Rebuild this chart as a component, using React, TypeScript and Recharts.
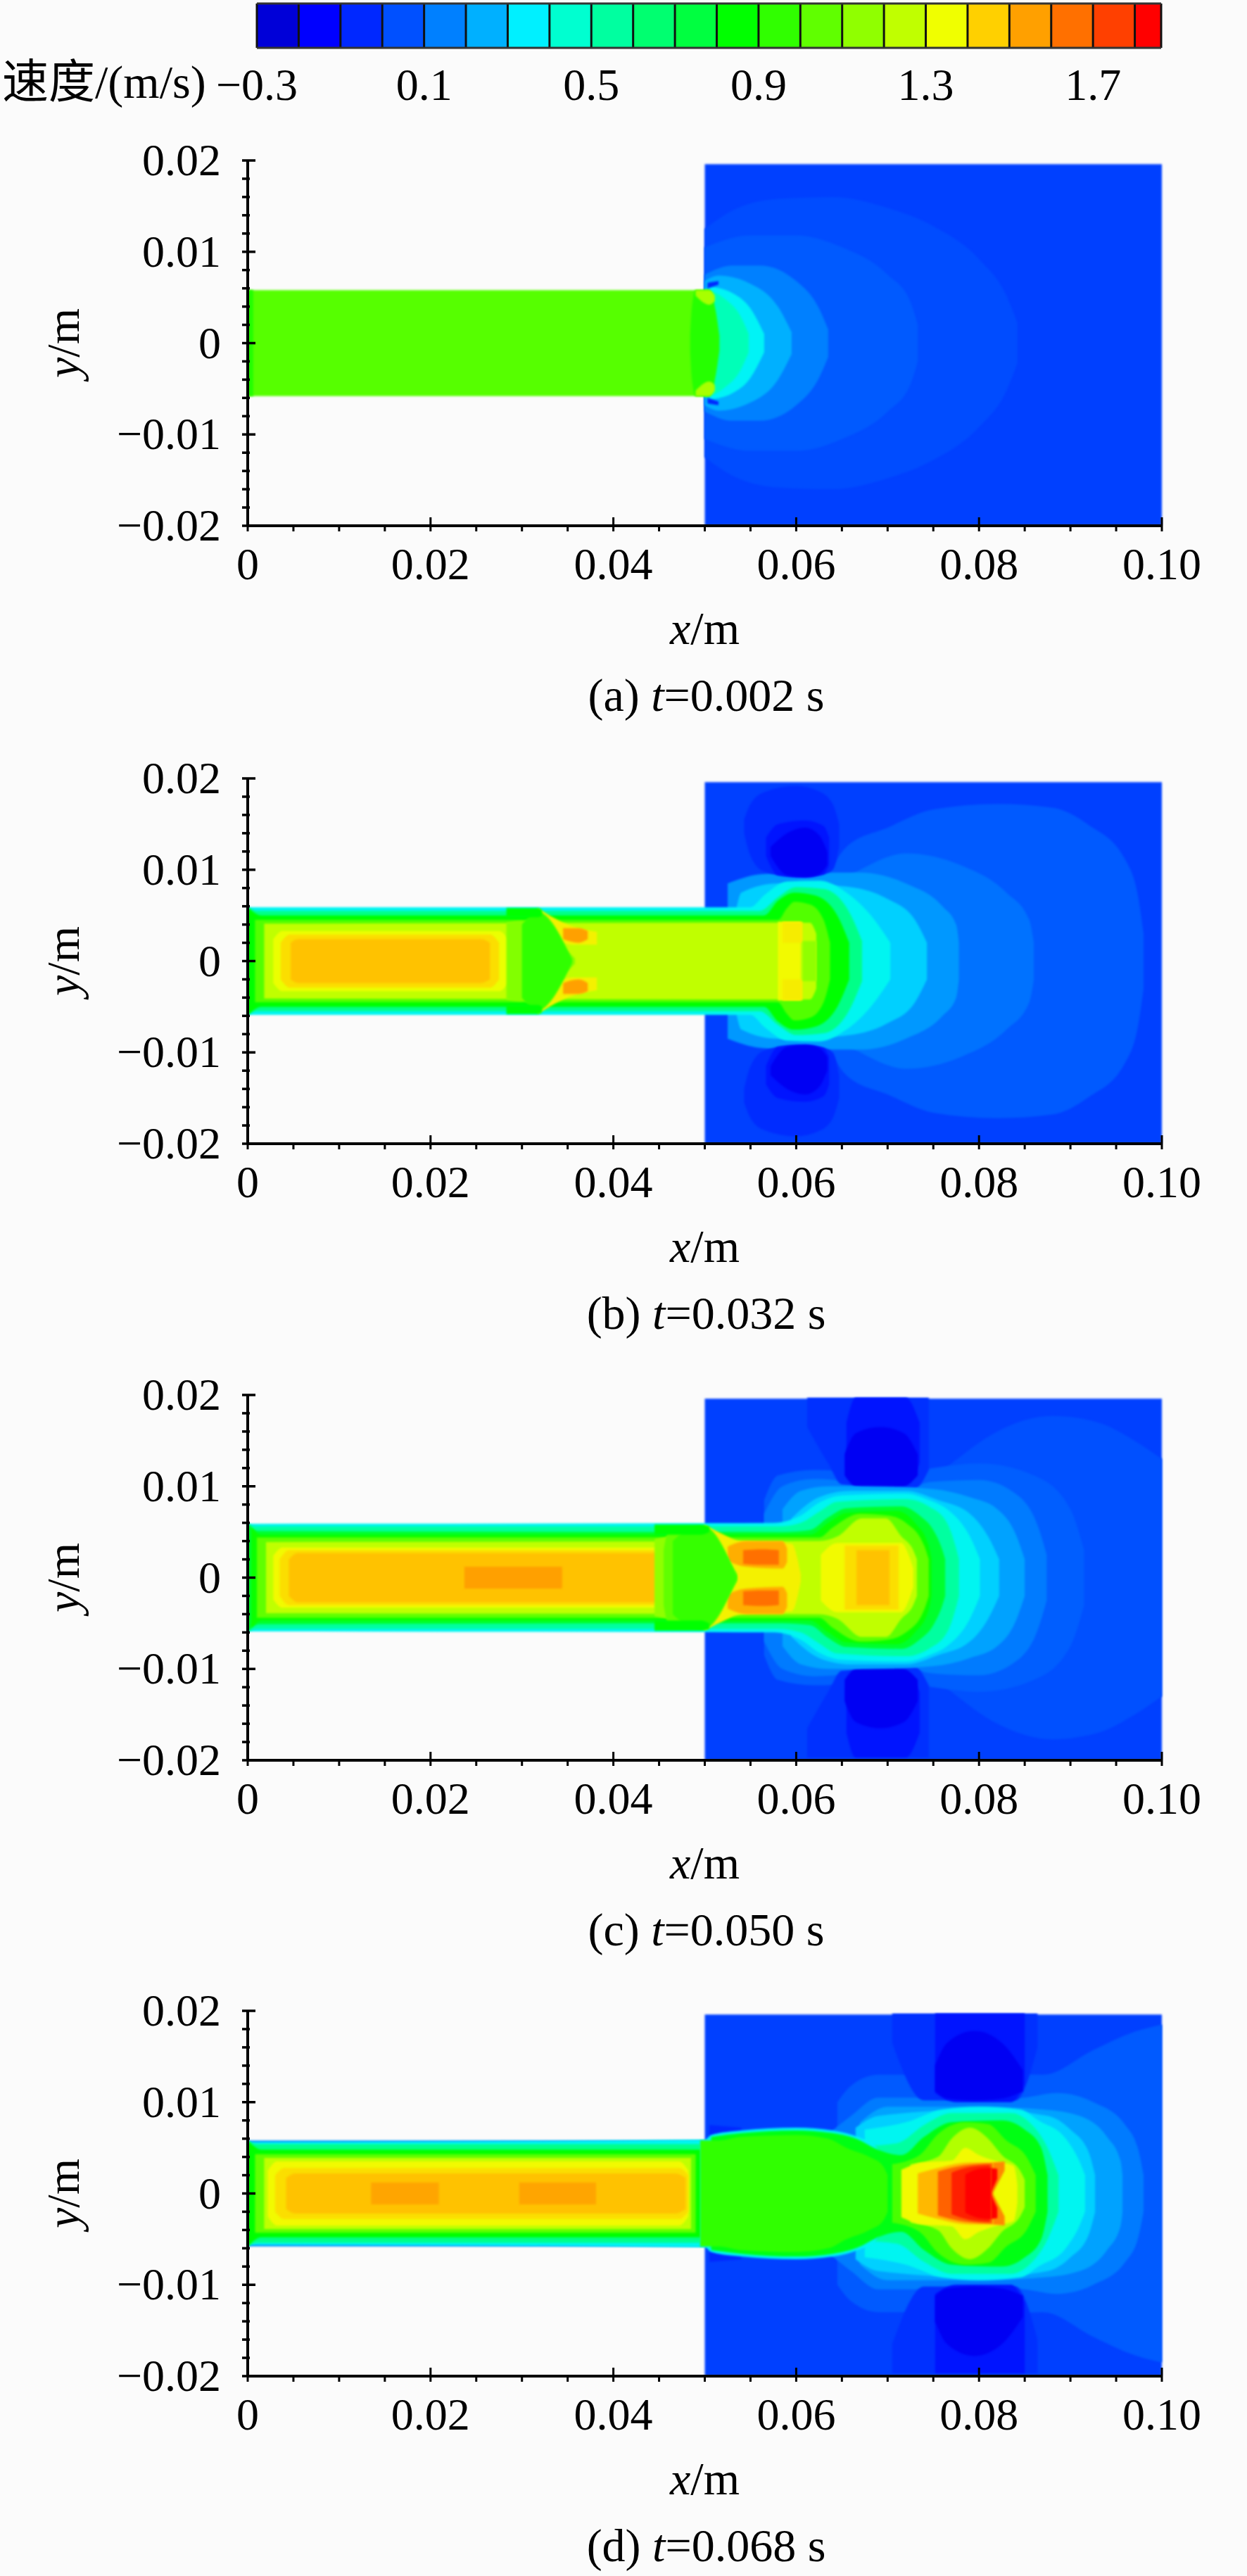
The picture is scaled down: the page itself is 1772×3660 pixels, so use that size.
import { ComposedChart, Area, XAxis, YAxis, ReferenceLine, Label } from "recharts";

type Pt = number[]; // [x, h] symmetric about y=0, or [x, lo, hi]
type Band = [number, Pt[]]; // velocity level, outline

// colour bar, one swatch for each 0.1 m/s from -0.3
const legendColors = ["#0000d8", "#0000ff", "#0028ff", "#0050ff", "#0080ff", "#00b0ff", "#00f0ff", "#00ffd0", "#00ffa0", "#00ff70", "#00ff40", "#00ff00", "#30ff00", "#60ff00", "#90ff00", "#c0ff00", "#f0ff00", "#ffd000", "#ffa000", "#ff7000", "#ff4000", "#ff0000"];
const legendEdges = [-0.3, -0.2, -0.1, 0, 0.1, 0.2, 0.3, 0.4, 0.5, 0.6, 0.7, 0.8, 0.9, 1.0, 1.1, 1.2, 1.3, 1.4, 1.5, 1.6, 1.7, 1.8, 1.863];
const legendTicks = [-0.3, 0.1, 0.5, 0.9, 1.3, 1.7];

const xTicks = [0, 0.005, 0.01, 0.015, 0.02, 0.025, 0.03, 0.035, 0.04, 0.045, 0.05, 0.055, 0.06, 0.065, 0.07, 0.075, 0.08, 0.085, 0.09, 0.095, 0.1];
const xMajor = [0, 0.02, 0.04, 0.06, 0.08, 0.1];
const yTicks = [-0.02, -0.018, -0.016, -0.014, -0.012, -0.01, -0.008, -0.006, -0.004, -0.002, 0, 0.002, 0.004, 0.006, 0.008, 0.01, 0.012, 0.014, 0.016, 0.018, 0.02];
const yMajor = [-0.02, -0.01, 0, 0.01, 0.02];

const domainBand: Band = [0.01, [[0.05, -0.02, 0.0196], [0.1, -0.02, 0.0196]]];

// (a) t=0.002
const lobesA: Band[] = [
  [0.04, [[0.05, 0.0125], [0.053, 0.0145], [0.058, 0.0158], [0.064, 0.016], [0.07, 0.0148], [0.075, 0.0128], [0.08, 0.0092], [0.083, 0.0052], [0.0842, 0.0022]]],
  [0.07, [[0.05, 0.0105], [0.055, 0.0118], [0.06, 0.0118], [0.065, 0.0105], [0.07, 0.0075], [0.0725, 0.0045], [0.0733, 0.002]]],
  [0.15, [[0.05, 0.0075], [0.053, 0.0085], [0.056, 0.0085], [0.06, 0.0068], [0.0625, 0.0038], [0.0635, 0.0015]]],
  [0.25, [[0.05, 0.0068], [0.0515, 0.0074], [0.055, 0.0065], [0.058, 0.004], [0.0595, 0.0012]]],
  [0.37, [[0.0505, 0.0062], [0.053, 0.0055], [0.055, 0.0038], [0.0565, 0.001]]],
  [0.5, [[0.05, 0.006], [0.052, 0.005], [0.054, 0.0028], [0.0548, 0.001]]],
];
const cornerA: Band[] = [
  [-0.05, [[0.0503, 0.006, 0.0066], [0.0515, 0.0064, 0.0068]]],
];
const jetA: Band[] = [
  [1.03, [[0, 0.0058], [0.0505, 0.0058]]],
  [0.92, [[0, 0.0058], [0.0006, 0.0058]]],
  [0.93, [[0.0484, 0.001], [0.0486, 0.004], [0.049, 0.0058], [0.0505, 0.0058], [0.0512, 0.0035], [0.0516, 0.0008]]],
];
const hotA: Band[] = [
  [1.2, [[0.049, 0.0052, 0.0058], [0.0505, 0.0042, 0.0058], [0.0511, 0.0046, 0.0052]]],
];

// (b) t=0.032
const lobesB: Band[] = [
  [0.07, [[0.063, 0.0085], [0.0655, 0.0125], [0.07, 0.0146], [0.075, 0.0166], [0.082, 0.0172], [0.088, 0.0168], [0.092, 0.0149], [0.096, 0.0111], [0.0975, 0.0065], [0.098, 0.003]]],
  [0.12, [[0.063, 0.008], [0.066, 0.0095], [0.072, 0.0118], [0.078, 0.0105], [0.083, 0.0075], [0.0855, 0.0045], [0.086, 0.002]]],
  [0.2, [[0.0525, 0.0085], [0.056, 0.0095], [0.06, 0.0097], [0.067, 0.0097], [0.072, 0.0085], [0.076, 0.006], [0.0775, 0.004], [0.0778, 0.002]]],
];
const darkB: Band[] = [
  [-0.04, [[0.0543, 0.014, 0.0155], [0.055, 0.0115, 0.0172], [0.0565, 0.0098, 0.0185], [0.06, 0.0092, 0.0192], [0.0625, 0.0094, 0.0186], [0.064, 0.01, 0.0172], [0.0647, 0.0125, 0.015]]],
  [-0.1, [[0.0567, 0.0115, 0.0135], [0.058, 0.0094, 0.015], [0.061, 0.0092, 0.0154], [0.063, 0.0095, 0.0148], [0.0636, 0.0105, 0.0135]]],
  [-0.18, [[0.0572, 0.0115, 0.0125], [0.059, 0.0094, 0.014], [0.061, 0.0092, 0.0146], [0.0625, 0.0095, 0.0138], [0.0634, 0.0105, 0.012]]],
];
const jetB: Band[] = [
  [0.3, [[0.0535, 0.006], [0.054, 0.0075], [0.058, 0.0085], [0.065, 0.0082], [0.07, 0.0068], [0.073, 0.0045], [0.0743, 0.002]]],
  [0.38, [[0, 0.0059], [0.055, 0.0059], [0.0565, 0.0072], [0.059, 0.0087], [0.0625, 0.0088], [0.0655, 0.0075], [0.068, 0.0052], [0.0703, 0.002]]],
  [0.6, [[0, 0.0059], [0.001, 0.0055], [0.056, 0.0055], [0.058, 0.007], [0.06, 0.0081], [0.063, 0.0079], [0.066, 0.005], [0.0672, 0.0022]]],
  [0.85, [[0, 0.0059], [0.0015, 0.005], [0.0565, 0.005], [0.058, 0.0066], [0.0598, 0.0075], [0.062, 0.0072], [0.0645, 0.005], [0.0658, 0.002]]],
  [1.02, [[0.0008, 0.0045], [0.058, 0.0045], [0.059, 0.0058], [0.0598, 0.0065], [0.0615, 0.0062], [0.063, 0.0045], [0.0637, 0.002]]],
  [1.25, [[0.0018, 0.0041], [0.0615, 0.0042], [0.0622, 0.003]]],
  [1.34, [[0.0028, 0.0024], [0.0038, 0.0033], [0.0275, 0.0033], [0.0285, 0.0024]]],
  [1.42, [[0.0036, 0.002], [0.0046, 0.0029], [0.0265, 0.0029], [0.0275, 0.002]]],
  [1.48, [[0.0047, 0.002], [0.0055, 0.0024], [0.0255, 0.0024], [0.0265, 0.002]]],
  [1.36, [[0.058, 0.0043], [0.0605, 0.0043]]],
];
const hotB: Band[] = [
  [1.38, [[0.0317, 0.004, 0.0058], [0.0355, 0.0018, 0.0038], [0.0382, 0.0018, 0.0032]]],
  [1.55, [[0.0345, 0.0024, 0.0036], [0.0362, 0.002, 0.0036], [0.0372, 0.0024, 0.0033]]],
  [1.39, [[0.0585, 0.002, 0.0043], [0.0607, 0.002, 0.0043]]],
];
const shockB: Band[] = [
  [1.15, [[0.0607, 0.0022], [0.0622, 0.0022]]],
  [1.12, [[0.0283, 0.0042], [0.0298, 0.0044], [0.0345, 0.0015], [0.0358, 0.0003]]],
  [0.95, [[0.03, 0.004], [0.0317, 0.0054], [0.0355, 0.0002]]],
];
const wallB: Band[] = [
  [0.85, [[0.0283, 0.0048, 0.0058], [0.0317, 0.0048, 0.0058], [0.0322, 0.005, 0.0056]]],
];

// (c) t=0.050
const lobesC: Band[] = [
  [0.05, [[0.0735, 0.0095], [0.077, 0.0125], [0.082, 0.016], [0.088, 0.0177], [0.093, 0.017], [0.097, 0.015], [0.1, 0.013]]],
  [0.08, [[0.0565, 0.0085], [0.058, 0.0112], [0.062, 0.0118], [0.07, 0.0115], [0.08, 0.0125], [0.086, 0.0112], [0.09, 0.0075], [0.0915, 0.003]]],
  [0.14, [[0.0565, 0.007], [0.0585, 0.01], [0.062, 0.0108], [0.066, 0.0105], [0.071, 0.0097], [0.075, 0.0105], [0.08, 0.0107], [0.084, 0.0092], [0.0865, 0.0055], [0.0874, 0.0025]]],
];
const darkC: Band[] = [
  [-0.03, [[0.0612, 0.0165, 0.0197], [0.0635, 0.0125, 0.0197], [0.065, 0.0102, 0.0197], [0.073, 0.0098, 0.0197], [0.0745, 0.0118, 0.0197]]],
  [-0.1, [[0.0655, 0.0125, 0.017], [0.0665, 0.0105, 0.0197], [0.072, 0.0105, 0.0197], [0.0735, 0.0125, 0.017]]],
  [-0.18, [[0.0653, 0.0112, 0.0135], [0.0665, 0.01, 0.0158], [0.0692, 0.0098, 0.0165], [0.0718, 0.01, 0.0158], [0.0733, 0.0112, 0.0135]]],
];
const jetC: Band[] = [
  [0.22, [[0.0585, 0.0075], [0.0605, 0.0095], [0.0635, 0.01], [0.068, 0.01], [0.075, 0.0097], [0.079, 0.0088], [0.082, 0.0075], [0.084, 0.0048], [0.085, 0.002]]],
  [0.3, [[0.0595, 0.0065], [0.0625, 0.0088], [0.066, 0.0095], [0.072, 0.0095], [0.0755, 0.0085], [0.079, 0.007], [0.081, 0.0045], [0.0822, 0.002]]],
  [0.38, [[0, 0.0059], [0.0575, 0.006], [0.0605, 0.0068], [0.0625, 0.0082], [0.065, 0.009], [0.072, 0.0092], [0.0745, 0.0085], [0.0765, 0.0075], [0.079, 0.0045], [0.0801, 0.002]]],
  [0.55, [[0, 0.0059], [0.001, 0.0056], [0.058, 0.0056], [0.0605, 0.006], [0.0625, 0.0072], [0.0645, 0.0083], [0.072, 0.0086], [0.0745, 0.0078], [0.0765, 0.006], [0.0775, 0.0032], [0.0778, 0.002]]],
  [0.78, [[0, 0.0059], [0.0012, 0.0051], [0.0585, 0.005], [0.0615, 0.0052], [0.0635, 0.0066], [0.0655, 0.0076], [0.0715, 0.0078], [0.0735, 0.0068], [0.075, 0.0052], [0.076, 0.003], [0.0763, 0.002]]],
  [0.87, [[0.0004, 0.0055], [0.0015, 0.0047], [0.0615, 0.0047], [0.0635, 0.006], [0.0655, 0.0071], [0.071, 0.0073], [0.073, 0.006], [0.0745, 0.0035], [0.0748, 0.002]]],
  [1.05, [[0.001, 0.0044], [0.0625, 0.0044], [0.064, 0.0055], [0.067, 0.007], [0.07, 0.0068], [0.072, 0.006], [0.074, 0.0035], [0.0745, 0.002]]],
  [1.25, [[0.002, 0.0039], [0.0625, 0.004], [0.0645, 0.0045], [0.0672, 0.0065], [0.0698, 0.0065], [0.0715, 0.0045], [0.0728, 0.003], [0.0732, 0.002]]],
  [1.36, [[0.0028, 0.0024], [0.0038, 0.0033], [0.0455, 0.0033], [0.0465, 0.0024]]],
  [1.42, [[0.0035, 0.002], [0.0045, 0.003], [0.045, 0.003], [0.046, 0.002]]],
  [1.48, [[0.0045, 0.002], [0.0055, 0.0027], [0.0445, 0.0027], [0.0455, 0.002]]],
  [1.55, [[0.0237, 0.0012], [0.0344, 0.0012]]],
  [1.36, [[0.0627, 0.0025], [0.0645, 0.0038], [0.0715, 0.0038], [0.0723, 0.0025], [0.0728, 0.001]]],
  [1.42, [[0.0653, 0.0035], [0.0712, 0.0035]]],
  [1.48, [[0.0666, 0.003], [0.0702, 0.003]]],
  [1.38, [[0.0499, 0.0058], [0.0515, 0.005], [0.054, 0.004], [0.0595, 0.0037], [0.0605, 0.0004]]],
];
const hotC: Band[] = [
  [1.52, [[0.0525, 0.0018, 0.0034], [0.0545, 0.0012, 0.004], [0.0585, 0.001, 0.004], [0.059, 0.0017, 0.0032]]],
  [1.65, [[0.0542, 0.0015, 0.003], [0.0563, 0.0014, 0.0031], [0.0581, 0.0014, 0.003]]],
];
const shockC: Band[] = [
  [1.15, [[0.0445, 0.0042], [0.0475, 0.0046], [0.0505, 0.0042], [0.0535, 0.0005]]],
  [1.05, [[0.0455, 0.003], [0.046, 0.005], [0.048, 0.005], [0.0505, 0.0036], [0.0535, 0.0003]]],
  [0.96, [[0.0465, 0.004], [0.0482, 0.0053], [0.0499, 0.0056], [0.0535, 0.0002]]],
];
const wallC: Band[] = [
  [0.85, [[0.0445, 0.0047, 0.0058], [0.0495, 0.0047, 0.0058], [0.0505, 0.005, 0.0056]]],
];

// (d) t=0.068
const lobesD: Band[] = [
  [0.07, [[0.0645, 0.01], [0.066, 0.0118], [0.069, 0.013], [0.073, 0.013], [0.078, 0.0135], [0.087, 0.013], [0.0925, 0.0157], [0.097, 0.0177], [0.1, 0.0185]]],
  [0.14, [[0.0635, 0.0065], [0.066, 0.0085], [0.069, 0.0105], [0.075, 0.0105], [0.08, 0.0102], [0.085, 0.0105], [0.0885, 0.011], [0.0925, 0.01], [0.096, 0.0075], [0.0975, 0.0045], [0.098, 0.002]]],
];
const darkD: Band[] = [
  [-0.03, [[0.0705, 0.0165, 0.0197], [0.074, 0.0102, 0.0197], [0.084, 0.0102, 0.0197], [0.0864, 0.016, 0.0197]]],
  [-0.1, [[0.0752, 0.011, 0.0197], [0.0775, 0.01, 0.0197], [0.0835, 0.01, 0.0197], [0.085, 0.012, 0.0197]]],
  [-0.18, [[0.0752, 0.0112, 0.014], [0.0765, 0.0104, 0.0165], [0.0795, 0.0102, 0.0178], [0.0825, 0.0104, 0.0165], [0.0848, 0.0112, 0.0135]]],
  [-0.05, [[0.0505, 0.0064, 0.0075], [0.054, 0.0066, 0.0072]]],
];
const jetD: Band[] = [
  [0.22, [[0.067, 0.0078], [0.07, 0.0095], [0.08, 0.0095], [0.087, 0.0092], [0.091, 0.0085], [0.094, 0.0062], [0.0955, 0.0035], [0.0957, 0.002]]],
  [0.3, [[0.0665, 0.0072], [0.069, 0.0085], [0.08, 0.0092], [0.0875, 0.0085], [0.09, 0.007], [0.092, 0.0045], [0.0927, 0.002]]],
  [0.38, [[0.0675, 0.007], [0.072, 0.0078], [0.076, 0.0092], [0.08, 0.0095], [0.0845, 0.0092], [0.0865, 0.008], [0.0895, 0.006], [0.091, 0.0035], [0.0916, 0.002]]],
  [0.55, [[0.0675, 0.0052], [0.071, 0.0055], [0.074, 0.0075], [0.077, 0.0088], [0.0835, 0.0088], [0.0855, 0.0078], [0.0875, 0.005], [0.0887, 0.002]]],
  [0.2, [[0, 0.0058], [0.05, 0.0058]]],
  [0.38, [[0, 0.0056], [0.05, 0.0059], [0.0507, 0.0064], [0.054, 0.0069], [0.06, 0.0072], [0.064, 0.0069], [0.067, 0.0061], [0.0685, 0.0054], [0.07, 0.002]]],
  [0.6, [[0, 0.0058], [0.001, 0.0054], [0.0495, 0.0054]]],
  [0.85, [[0, 0.0058], [0.0015, 0.0048], [0.0495, 0.0048]]],
  [0.82, [[0.0507, 0.0062], [0.054, 0.0066], [0.06, 0.0069], [0.064, 0.0066], [0.067, 0.0058], [0.0685, 0.005], [0.0715, 0.0042], [0.074, 0.0062], [0.077, 0.0078], [0.0825, 0.008], [0.085, 0.007], [0.0868, 0.005], [0.0875, 0.002]]],
  [1.05, [[0.0008, 0.0043], [0.049, 0.0043]]],
  [1.25, [[0.0018, 0.0039], [0.0485, 0.0039]]],
  [1.36, [[0.0022, 0.0025], [0.0032, 0.0035], [0.0472, 0.0035], [0.0482, 0.0025]]],
  [1.42, [[0.003, 0.002], [0.004, 0.0028], [0.0472, 0.0028], [0.0482, 0.002]]],
  [1.48, [[0.0042, 0.0017], [0.0052, 0.0022], [0.0468, 0.0022], [0.0479, 0.0017]]],
  [1.54, [[0.0135, 0.0012], [0.0209, 0.0012]]],
  [1.54, [[0.0297, 0.0012], [0.0381, 0.0012]]],
  [0.95, [[0.0495, 0.0058], [0.0515, 0.0058], [0.054, 0.0062], [0.06, 0.0064], [0.0635, 0.006], [0.0655, 0.005], [0.068, 0.004], [0.0695, 0.003], [0.07, 0.002]]],
  [1.0, [[0.0705, 0.0032], [0.0735, 0.0042], [0.0755, 0.0065], [0.0785, 0.0078], [0.081, 0.0076], [0.083, 0.0058], [0.0852, 0.004], [0.0862, 0.002]]],
  [1.22, [[0.0725, 0.0032], [0.0755, 0.004], [0.077, 0.006], [0.079, 0.0072], [0.081, 0.006], [0.0825, 0.0042], [0.0845, 0.0025], [0.085, 0.0015]]],
  [1.36, [[0.0715, 0.0026], [0.0738, 0.0034], [0.077, 0.0036], [0.0785, 0.005], [0.08, 0.0042], [0.082, 0.0035], [0.0838, 0.003], [0.0842, 0.001]]],
  [1.5, [[0.0733, 0.0022], [0.0755, 0.0028], [0.079, 0.0034], [0.0815, 0.0034]]],
  [1.68, [[0.0755, 0.0024], [0.0785, 0.0031], [0.0815, 0.0033]]],
  [1.8, [[0.077, 0.0023], [0.079, 0.0029], [0.0812, 0.0031]]],
  [1.88, [[0.0785, 0.0021], [0.08, 0.0027], [0.0813, 0.0028]]],
];
const hotD: Band[] = [
  [1.6, [[0.0815, 0, 0.0034], [0.0828, 0.0025, 0.0035]]],
  [1.88, [[0.0813, 0, 0.0028], [0.082, 0.0016, 0.0027]]],
];

const FONT = '"Liberation Serif", "Noto Sans CJK SC", serif';
const PAGE_BG = "#fbfbfb";

function colorOf(v: number) {
  const i = Math.max(0, Math.min(legendColors.length - 1.001, (v + 0.25) / 0.1));
  const a = Math.floor(i);
  const t = i - a;
  const rgb = (s: string) => [1, 3, 5].map((p) => parseInt(s.slice(p, p + 2), 16));
  const c0 = rgb(legendColors[a]);
  const c1 = rgb(legendColors[a + 1]);
  return `rgb(${c0.map((c, k) => Math.round(c + (c1[k] - c) * t)).join(",")})`;
}

// a contour that has an upper and a lower copy
const twin = (bands: Band[]) =>
  bands.flatMap(([v, pts]): Band[] => [
    [v, pts],
    [v, pts.map(([x, lo, hi]) => [x, -hi, -lo])],
  ]);

const toRows = (pts: Pt[]) => pts.map((p) => ({ x: p[0], y: p.length === 3 ? [p[1], p[2]] : [-p[1], p[1]] }));

function XTick({ x, y, payload }: any) {
  const major = xMajor.includes(payload.value);
  return (
    <g>
      <line x1={x} x2={x} y1={y} y2={y - (major ? 20 : 10)} stroke="#000" strokeWidth={3} />
      {major && (
        <text x={x} y={y + 68} textAnchor="middle" fontFamily={FONT} fontSize={64} fill="#000">
          {payload.value === 0 ? "0" : payload.value.toFixed(2)}
        </text>
      )}
    </g>
  );
}

function YTick({ x, y, payload }: any) {
  const major = yMajor.includes(payload.value);
  const v = payload.value;
  return (
    <g>
      <line x1={x} x2={x + (major ? 19 : 11)} y1={y} y2={y} stroke="#000" strokeWidth={3.5} />
      {major && (
        <text x={x - 30} y={y + 21} textAnchor="end" fontFamily={FONT} fontSize={64} fill="#000">
          {v === 0 ? "0" : (v < 0 ? "\u2212" : "") + Math.abs(v).toFixed(2)}
        </text>
      )}
    </g>
  );
}

function Panel({ top, tag, time, bands }: { top: number; tag: string; time: string; bands: Band[] }) {
  return (
    <div className="field" style={{ position: "absolute", left: 0, top: top - 60 }}>
      <ComposedChart width={1772} height={859} margin={{ top: 60, right: 121, bottom: 0, left: 0 }}>
        {bands.map(([v, pts], i) => (
          <Area
            key={i}
            data={toRows(pts)}
            dataKey="y"
            type="monotone"
            fill={colorOf(v)}
            fillOpacity={1}
            stroke="none"
            dot={false}
            activeDot={false}
            isAnimationActive={false}
          />
        ))}
        <XAxis
          dataKey="x"
          type="number"
          domain={[0, 0.1]}
          ticks={xTicks}
          interval={0}
          tick={XTick}
          tickLine={false}
          axisLine={{ stroke: "#000", strokeWidth: 4 }}
          height={280}
        >
          <Label
            content={({ viewBox }: any) => (
              <g fontFamily={FONT} fill="#000" textAnchor="middle">
                <text x={viewBox.x + viewBox.width / 2} y={viewBox.y + 168} fontSize={66}>
                  <tspan fontStyle="italic">x</tspan>/m
                </text>
                <text x={viewBox.x + viewBox.width / 2 + 2} y={viewBox.y + 263} fontSize={66}>
                  ({tag}) <tspan fontStyle="italic">t</tspan>={time} s
                </text>
              </g>
            )}
          />
        </XAxis>
        <YAxis
          type="number"
          domain={[-0.02, 0.02]}
          ticks={yTicks}
          interval={0}
          tick={YTick}
          tickLine={false}
          axisLine={{ stroke: "#000", strokeWidth: 4 }}
          width={352}
        >
          <Label
            content={({ viewBox }: any) => {
              const cy = viewBox.y + viewBox.height / 2;
              return (
                <text x={112} y={cy} transform={`rotate(-90 112 ${cy})`} fontFamily={FONT} fontSize={66} fill="#000" textAnchor="middle">
                  <tspan fontStyle="italic">y</tspan>/m
                </text>
              );
            }}
          />
        </YAxis>
      </ComposedChart>
    </div>
  );
}

function ColorBar() {
  return (
    <div style={{ position: "absolute", left: 0, top: 0 }}>
      <ComposedChart width={1772} height={160} margin={{ top: 5, right: 122, bottom: 0, left: 365 }}>
        {legendColors.map((c, i) => (
          <Area
            key={c}
            data={[
              { x: legendEdges[i], y: [0, 1] },
              { x: legendEdges[i + 1], y: [0, 1] },
            ]}
            dataKey="y"
            type="linear"
            fill={c}
            fillOpacity={1}
            stroke="none"
            dot={false}
            activeDot={false}
            isAnimationActive={false}
          />
        ))}
        {legendEdges.map((e) => (
          <ReferenceLine key={e} x={e} stroke="#111" strokeWidth={3} />
        ))}
        <ReferenceLine y={0} stroke="#333" strokeWidth={3} />
        <ReferenceLine y={1} stroke="#333" strokeWidth={3} />
        <XAxis
          dataKey="x"
          type="number"
          domain={[-0.3, 1.863]}
          ticks={legendTicks}
          interval={0}
          axisLine={false}
          tickLine={false}
          height={92}
          tick={({ x, y, payload }: any) => (
            <text x={x} y={y + 66} textAnchor="middle" fontFamily={FONT} fontSize={64} fill="#000">
              {payload.value < 0 ? "\u2212" + Math.abs(payload.value).toFixed(1) : payload.value.toFixed(1)}
            </text>
          )}
        />
        <YAxis type="number" domain={[0, 1]} hide />
      </ComposedChart>
      <div style={{ position: "absolute", left: 3, top: 80, fontFamily: FONT, fontSize: 66, lineHeight: "74px", whiteSpace: "nowrap" }}>
        速度/(m/s)
      </div>
    </div>
  );
}

export default function App() {
  const a = [domainBand, ...lobesA, ...twin(cornerA), ...jetA, ...twin(hotA)];
  const b = [domainBand, ...lobesB, ...twin(darkB), ...jetB, ...twin(hotB), ...shockB, ...twin(wallB)];
  const c = [domainBand, ...lobesC, ...twin(darkC), ...jetC, ...twin(hotC), ...shockC, ...twin(wallC)];
  const d = [domainBand, ...lobesD, ...twin(darkD), ...jetD, ...twin(hotD)];
  return (
    <div style={{ position: "absolute", left: 0, top: 0, width: 1772, height: 3660, background: PAGE_BG, overflow: "hidden" }}>
      <style>{`.field .recharts-area-area { filter: blur(1.6px); }`}</style>
      <ColorBar />
      <Panel top={228} tag="a" time="0.002" bands={a} />
      <Panel top={1106} tag="b" time="0.032" bands={b} />
      <Panel top={1982} tag="c" time="0.050" bands={c} />
      <Panel top={2857} tag="d" time="0.068" bands={d} />
    </div>
  );
}
